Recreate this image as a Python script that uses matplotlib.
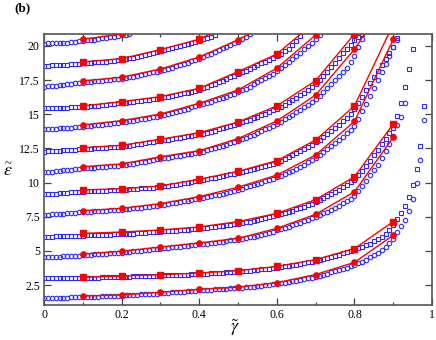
import numpy as np
import matplotlib
matplotlib.use("Agg")
import matplotlib.pyplot as plt
from matplotlib.ticker import MultipleLocator

plt.rcParams['font.family'] = ['Liberation Serif', 'DejaVu Serif']
plt.rcParams['mathtext.fontset'] = 'stix'

# blue open markers, sampled every 0.01 in gamma starting at 0
blue_1 = [1.53, 1.54, 1.55, 1.55, 1.56, 1.57, 1.58, 1.59, 1.60, 1.61,
          1.62, 1.63, 1.64, 1.65, 1.66, 1.67, 1.68, 1.69, 1.70, 1.71,
          1.72, 1.74, 1.75, 1.77, 1.79, 1.81, 1.83, 1.85, 1.87, 1.88,
          1.90, 1.92, 1.94, 1.96, 1.98, 2.00, 2.02, 2.04, 2.06, 2.08,
          2.10, 2.12, 2.14, 2.16, 2.18, 2.19, 2.21, 2.23, 2.25, 2.26,
          2.28, 2.30, 2.32, 2.35, 2.38, 2.41, 2.44, 2.47, 2.51, 2.54,
          2.58, 2.62, 2.66, 2.71, 2.76, 2.81, 2.86, 2.92, 2.98, 3.05,
          3.12, 3.19, 3.26, 3.34, 3.42, 3.51, 3.60, 3.69, 3.78, 3.88,
          3.98, 4.10, 4.22, 4.36, 4.52, 4.70, 4.88, 5.08, 5.30, 5.58,
          5.90, 6.35, 6.80, 7.26, 7.94, 8.77, 9.95, 11.65, 14.58]
blue_2 = [2.99, 2.99, 3.00, 3.00, 3.00, 3.01, 3.01, 3.01, 3.02, 3.02,
          3.02, 3.03, 3.04, 3.05, 3.05, 3.06, 3.07, 3.08, 3.08, 3.09,
          3.10, 3.11, 3.12, 3.13, 3.14, 3.15, 3.16, 3.17, 3.18, 3.18,
          3.19, 3.20, 3.21, 3.22, 3.23, 3.24, 3.26, 3.27, 3.28, 3.30,
          3.31, 3.32, 3.34, 3.35, 3.37, 3.38, 3.40, 3.42, 3.44, 3.46,
          3.48, 3.50, 3.52, 3.55, 3.58, 3.61, 3.64, 3.67, 3.71, 3.74,
          3.78, 3.82, 3.86, 3.90, 3.95, 4.00, 4.05, 4.10, 4.15, 4.21,
          4.27, 4.33, 4.40, 4.47, 4.55, 4.63, 4.72, 4.81, 4.90, 4.99,
          5.08, 5.18, 5.29, 5.41, 5.54, 5.69, 5.85, 6.03, 6.24, 6.50,
          6.90, 7.30, 7.80, 8.28, 8.97, 9.82, 10.97, 12.68, 15.60]
blue_3 = [4.53, 4.54, 4.55, 4.57, 4.58, 4.60, 4.61, 4.63, 4.65, 4.66,
          4.68, 4.70, 4.72, 4.74, 4.76, 4.78, 4.80, 4.82, 4.84, 4.86,
          4.88, 4.90, 4.93, 4.96, 4.99, 5.02, 5.05, 5.08, 5.11, 5.13,
          5.16, 5.19, 5.22, 5.25, 5.28, 5.31, 5.35, 5.38, 5.41, 5.45,
          5.48, 5.51, 5.54, 5.57, 5.60, 5.64, 5.68, 5.72, 5.76, 5.79,
          5.82, 5.87, 5.92, 5.98, 6.04, 6.10, 6.17, 6.24, 6.32, 6.41,
          6.50, 6.58, 6.67, 6.76, 6.86, 6.96, 7.06, 7.17, 7.28, 7.39,
          7.50, 7.62, 7.75, 7.88, 8.02, 8.16, 8.31, 8.48, 8.65, 8.82,
          9.00, 9.35, 9.75, 10.12, 10.55, 10.92, 11.30, 11.78, 12.30, 12.85,
          13.40, 14.20, 14.80, 15.86]
blue_4 = [6.04, 6.04, 6.05, 6.06, 6.06, 6.07, 6.08, 6.09, 6.10, 6.11,
          6.12, 6.13, 6.14, 6.15, 6.16, 6.17, 6.18, 6.19, 6.20, 6.21,
          6.22, 6.24, 6.25, 6.27, 6.29, 6.31, 6.33, 6.35, 6.37, 6.38,
          6.40, 6.42, 6.44, 6.46, 6.48, 6.50, 6.53, 6.55, 6.58, 6.60,
          6.63, 6.66, 6.69, 6.72, 6.76, 6.79, 6.83, 6.87, 6.91, 6.95,
          7.00, 7.05, 7.10, 7.15, 7.21, 7.27, 7.33, 7.39, 7.46, 7.53,
          7.60, 7.68, 7.76, 7.85, 7.94, 8.03, 8.12, 8.22, 8.33, 8.46,
          8.60, 8.74, 8.88, 9.02, 9.17, 9.32, 9.48, 9.65, 9.83, 10.01,
          10.20, 10.52, 10.85, 11.20, 11.58, 12.00, 12.40, 12.82, 13.22, 13.62,
          14.00, 14.90, 15.85, 16.97, 18.30, 19.80]
blue_5 = [7.63, 7.65, 7.67, 7.69, 7.71, 7.73, 7.75, 7.77, 7.80, 7.82,
          7.84, 7.86, 7.88, 7.90, 7.92, 7.93, 7.95, 7.97, 7.99, 8.00,
          8.02, 8.05, 8.08, 8.11, 8.14, 8.17, 8.20, 8.24, 8.27, 8.31,
          8.34, 8.38, 8.42, 8.47, 8.52, 8.57, 8.62, 8.67, 8.72, 8.77,
          8.82, 8.88, 8.94, 9.00, 9.06, 9.12, 9.19, 9.26, 9.33, 9.40,
          9.48, 9.56, 9.64, 9.72, 9.81, 9.90, 9.99, 10.08, 10.18, 10.28,
          10.38, 10.50, 10.62, 10.75, 10.88, 11.02, 11.16, 11.32, 11.48, 11.65,
          11.82, 12.02, 12.22, 12.43, 12.65, 12.88, 13.12, 13.37, 13.62, 13.88,
          14.15, 14.68, 15.22, 15.78, 16.34, 16.90, 17.48, 18.06, 18.66, 19.28,
          19.90, 20.44]
blue_6 = [9.14, 9.16, 9.18, 9.20, 9.22, 9.24, 9.26, 9.28, 9.30, 9.32,
          9.34, 9.35, 9.36, 9.38, 9.39, 9.40, 9.41, 9.43, 9.44, 9.45,
          9.47, 9.49, 9.51, 9.53, 9.55, 9.57, 9.59, 9.61, 9.63, 9.65,
          9.68, 9.72, 9.76, 9.80, 9.85, 9.90, 9.95, 10.00, 10.05, 10.10,
          10.15, 10.20, 10.26, 10.31, 10.37, 10.43, 10.49, 10.55, 10.61, 10.66,
          10.72, 10.78, 10.85, 10.91, 10.98, 11.06, 11.14, 11.22, 11.30, 11.37,
          11.45, 11.58, 11.72, 11.86, 12.00, 12.14, 12.29, 12.45, 12.61, 12.78,
          12.95, 13.15, 13.36, 13.57, 13.79, 14.01, 14.24, 14.48, 14.72, 15.02,
          15.35, 15.82, 16.30, 16.78, 17.26, 17.72, 18.18, 18.62, 19.04, 19.46,
          19.96, 20.55]
blue_7 = [10.75, 10.77, 10.80, 10.83, 10.86, 10.89, 10.92, 10.95, 10.98, 11.01,
          11.04, 11.06, 11.08, 11.10, 11.12, 11.14, 11.16, 11.18, 11.20, 11.22,
          11.25, 11.29, 11.33, 11.38, 11.43, 11.48, 11.53, 11.59, 11.64, 11.70,
          11.75, 11.79, 11.83, 11.87, 11.91, 11.96, 12.01, 12.06, 12.10, 12.15,
          12.20, 12.27, 12.35, 12.43, 12.51, 12.60, 12.69, 12.78, 12.87, 12.96,
          13.05, 13.16, 13.27, 13.39, 13.51, 13.63, 13.76, 13.89, 14.02, 14.16,
          14.30, 14.46, 14.62, 14.79, 14.96, 15.14, 15.32, 15.51, 15.70, 15.90,
          16.10, 16.36, 16.62, 16.90, 17.18, 17.48, 17.78, 18.10, 18.42, 18.82,
          19.30, 19.90, 20.50]
blue_8 = [12.26, 12.28, 12.30, 12.32, 12.34, 12.36, 12.38, 12.40, 12.42, 12.43,
          12.45, 12.47, 12.49, 12.50, 12.52, 12.54, 12.55, 12.57, 12.59, 12.60,
          12.62, 12.66, 12.70, 12.74, 12.79, 12.84, 12.89, 12.94, 12.99, 13.02,
          13.05, 13.09, 13.14, 13.19, 13.24, 13.29, 13.34, 13.39, 13.44, 13.48,
          13.52, 13.59, 13.66, 13.73, 13.81, 13.89, 13.97, 14.05, 14.13, 14.21,
          14.30, 14.40, 14.50, 14.60, 14.71, 14.82, 14.93, 15.05, 15.16, 15.28,
          15.40, 15.55, 15.71, 15.87, 16.04, 16.21, 16.38, 16.56, 16.74, 16.97,
          17.20, 17.50, 17.80, 18.12, 18.45, 18.78, 19.12, 19.45, 19.78, 20.10,
          20.40, 20.62, 20.85]
blue_9 = [13.90, 13.91, 13.93, 13.95, 13.97, 13.99, 14.01, 14.03, 14.05, 14.08,
          14.10, 14.13, 14.16, 14.19, 14.22, 14.25, 14.28, 14.31, 14.34, 14.37,
          14.40, 14.44, 14.49, 14.53, 14.58, 14.63, 14.68, 14.73, 14.78, 14.83,
          14.88, 14.95, 15.02, 15.10, 15.18, 15.26, 15.34, 15.42, 15.50, 15.57,
          15.65, 15.74, 15.83, 15.92, 16.01, 16.10, 16.20, 16.30, 16.40, 16.50,
          16.60, 16.74, 16.88, 17.03, 17.18, 17.33, 17.49, 17.65, 17.82, 17.98,
          18.15, 18.37, 18.59, 18.82, 19.05, 19.28, 19.52, 19.76, 20.00, 20.25,
          20.50, 20.80]
blue_10 = [15.44, 15.45, 15.46, 15.46, 15.47, 15.48, 15.49, 15.50, 15.50, 15.51,
           15.52, 15.55, 15.58, 15.61, 15.64, 15.67, 15.70, 15.73, 15.76, 15.79,
           15.82, 15.85, 15.89, 15.92, 15.96, 16.00, 16.03, 16.07, 16.11, 16.14,
           16.18, 16.23, 16.28, 16.34, 16.40, 16.46, 16.52, 16.59, 16.65, 16.72,
           16.78, 16.89, 17.00, 17.11, 17.22, 17.34, 17.46, 17.58, 17.70, 17.82,
           17.95, 18.07, 18.20, 18.33, 18.46, 18.59, 18.72, 18.85, 18.98, 19.12,
           19.25, 19.42, 19.60, 19.80, 20.05, 20.35, 20.75]
blue_11 = [17.02, 17.04, 17.07, 17.10, 17.13, 17.16, 17.19, 17.22, 17.26, 17.29,
           17.32, 17.35, 17.37, 17.40, 17.43, 17.46, 17.49, 17.52, 17.55, 17.57,
           17.60, 17.65, 17.70, 17.76, 17.82, 17.88, 17.94, 18.00, 18.06, 18.12,
           18.18, 18.26, 18.34, 18.42, 18.51, 18.60, 18.69, 18.78, 18.87, 18.96,
           19.05, 19.18, 19.31, 19.44, 19.57, 19.70, 19.82, 19.94, 20.06, 20.18,
           20.30, 20.48, 20.66, 20.85]
blue_12 = [18.54, 18.55, 18.57, 18.59, 18.61, 18.63, 18.64, 18.66, 18.68, 18.70,
           18.72, 18.74, 18.76, 18.79, 18.81, 18.84, 18.86, 18.89, 18.92, 18.95,
           18.98, 19.03, 19.09, 19.15, 19.21, 19.27, 19.34, 19.41, 19.48, 19.54,
           19.60, 19.68, 19.76, 19.84, 19.92, 20.00, 20.07, 20.15, 20.23, 20.30,
           20.38, 20.48, 20.58, 20.68, 20.80]
blue_13 = [20.17, 20.18, 20.19, 20.20, 20.21, 20.23, 20.25, 20.27, 20.30, 20.34,
           20.38, 20.41, 20.44, 20.47, 20.51, 20.55, 20.59, 20.63, 20.67, 20.72,
           20.78, 20.83, 20.88]

# red lines with filled markers at gamma = 0.1, 0.2, ...
red_1 = [1.69, 1.77, 1.97, 2.18, 2.34, 2.67, 3.27, 4.16, 6.15]
red_2 = [3.06, 3.16, 3.25, 3.38, 3.55, 3.86, 4.36, 5.17, 7.14]
red_3 = [4.77, 4.97, 5.28, 5.58, 5.91, 6.65, 7.68, 9.33, 13.31]
red_4 = [6.28, 6.38, 6.53, 6.75, 7.14, 7.75, 8.75, 10.43, 14.29]
red_5 = [7.94, 8.11, 8.46, 8.97, 9.66, 10.55, 12.02, 14.48, 20.49]
red_6 = [9.46, 9.55, 9.75, 10.24, 10.82, 11.60, 13.12, 15.61, 21.60]
red_7 = [11.16, 11.36, 11.89, 12.33, 13.22, 14.51, 16.41, 19.76, 24.00]
red_8 = [12.55, 12.73, 13.17, 13.65, 14.43, 15.61, 17.46, 20.88]
red_9 = [14.22, 14.53, 15.02, 15.80, 16.78, 18.38, 20.80, 24.00]
red_10 = [15.61, 15.92, 16.29, 16.90, 18.12, 19.41, 21.80]
red_11 = [17.44, 17.71, 18.31, 19.19, 20.44, 22.00]
red_12 = [18.83, 19.07, 19.73, 20.49, 21.90]
red_13 = [20.49, 20.88]

blue_sets = [blue_1, blue_2, blue_3, blue_4, blue_5, blue_6, blue_7,
             blue_8, blue_9, blue_10, blue_11, blue_12, blue_13]
red_sets = [red_1, red_2, red_3, red_4, red_5, red_6, red_7,
            red_8, red_9, red_10, red_11, red_12, red_13]

x_ticks = [0, 0.2, 0.4, 0.6, 0.8, 1.0]
x_labels = ['0', '0.2', '0.4', '0.6', '0.8', '1']
y_ticks = [2.5, 5, 7.5, 10, 12.5, 15, 17.5, 20]
y_labels = ['2.5', '5', '7.5', '10', '12.5', '15', '17.5', '20']

fig = plt.figure(figsize=(4.36, 3.40), dpi=100)
ax = fig.add_axes([0.101, 0.103, 0.890, 0.798])

for i, (b, r) in enumerate(zip(blue_sets, red_sets)):
    mk = 'o' if i % 2 == 0 else 's'
    ms = 3.2 if mk == 'o' else 2.9
    xb = np.arange(len(b)) * 0.01
    ax.plot(xb, b, linestyle='none', marker=mk, ms=ms, mfc='none',
            mec='#2b2bff', mew=0.8, zorder=2)
    xr = (np.arange(len(r)) + 1) * 0.1
    ax.plot(xr, r, color='#ff0000', lw=1.0, marker=mk, ms=3.8,
            mfc='#ff0000', mec='#ff0000', zorder=3)

ax.set_xlim(0, 1)
ax.set_ylim(1.04, 20.9)
ax.set_xticks(x_ticks)
ax.set_xticklabels(x_labels)
ax.xaxis.set_minor_locator(MultipleLocator(0.1))
ax.set_yticks(y_ticks)
ax.set_yticklabels(y_labels)
ax.tick_params(which='both', direction='in', top=True, right=True,
               labelsize=8.5, color='#444444', pad=3)
ax.tick_params(which='major', length=5, width=0.9)
ax.tick_params(which='minor', length=2.5, width=0.9)
for s in ax.spines.values():
    s.set_linewidth(1.2)
    s.set_color('#555555')

fig.text(0.54, 0.035, r'$\tilde{\gamma}$', fontsize=13,
         ha='center', va='center')
# epsilon with a tilde set just above it
fig.text(0.017, 0.498, r'$\varepsilon$', fontsize=13, ha='center', va='center')
fig.text(0.018, 0.518, '~', fontsize=9, ha='center', va='center')
fig.text(0.032, 0.975, '(b)', fontsize=9.5, fontweight='bold',
         ha='left', va='center')

fig.savefig('out.png', dpi=100)
